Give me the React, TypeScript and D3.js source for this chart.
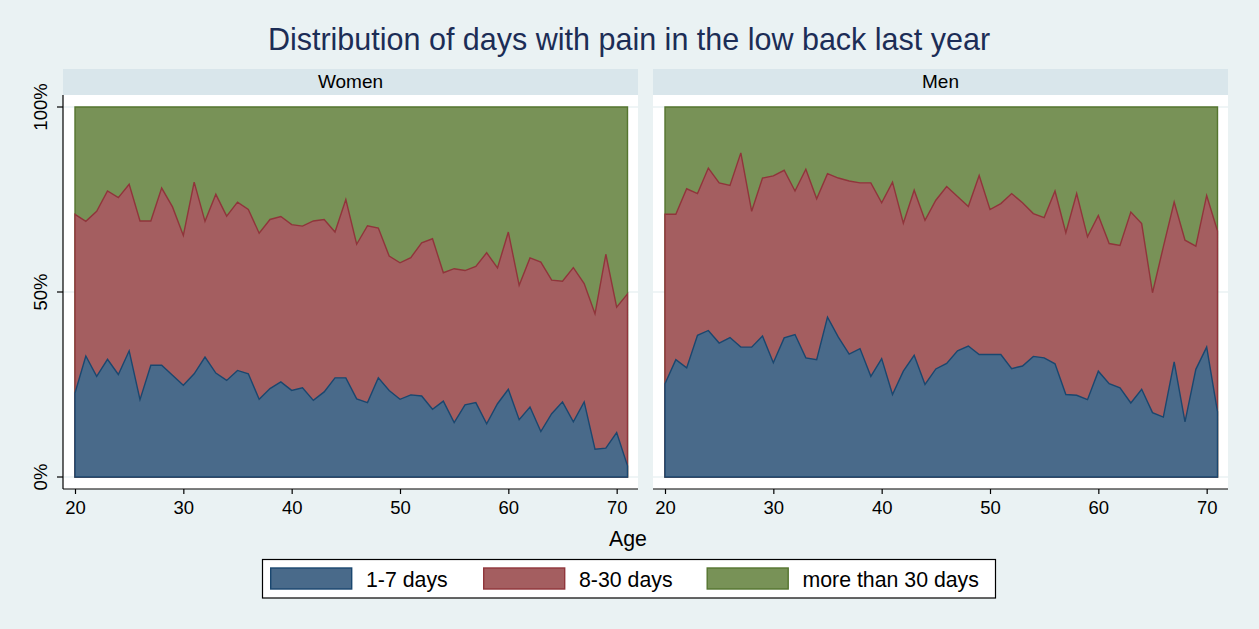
import * as React from 'react';
import {useRef, useEffect} from 'react';
import * as d3 from 'd3';

const ages = [20, 21, 22, 23, 24, 25, 26, 27, 28, 29, 30, 31, 32, 33, 34, 35, 36, 37, 38, 39, 40, 41, 42, 43, 44, 45,
    46, 47, 48, 49, 50, 51, 52, 53, 54, 55, 56, 57, 58, 59, 60, 61, 62, 63, 64, 65, 66, 67, 68, 69, 70, 71];

// shares in % per age
const women1to7 = [22.7, 32.7, 27.2, 31.8, 27.7, 34.1, 20.9, 30.2, 30.2, 27.5, 24.8, 27.9, 32.4, 28.1, 26.1, 28.8, 27.9,
    21.0, 23.9, 25.7, 23.4, 24.1, 20.7, 23.0, 26.8, 26.8, 21.1, 20.1, 26.8, 23.4, 21.0, 22.2, 21.9, 18.3, 20.5, 14.7, 19.5,
    20.1, 14.4, 19.8, 23.7, 15.5, 18.9, 12.3, 17.1, 20.3, 14.9, 20.3, 7.5, 7.8, 12.0, 3.0];
const women8to30 = [48.3, 36.4, 44.6, 45.5, 47.8, 45.0, 48.3, 39.0, 47.9, 45.5, 40.5, 51.8, 36.7, 48.3, 44.4, 45.5, 44.4,
    44.9, 45.7, 44.7, 44.8, 43.7, 48.5, 46.6, 39.4, 48.2, 41.8, 47.8, 40.5, 36.3, 36.9, 37.1, 41.4, 46.1, 34.7, 41.6, 36.3,
    36.8, 46.2, 36.7, 42.5, 36.3, 40.3, 45.8, 36.1, 32.6, 41.7, 32.0, 36.6, 52.4, 33.9, 46.5];
const womenOver30 = [29.0, 30.9, 28.2, 22.7, 24.5, 20.9, 30.8, 30.8, 21.9, 27.0, 34.7, 20.3, 30.9, 23.6, 29.5, 25.7, 27.7,
    34.1, 30.4, 29.6, 31.8, 32.2, 30.8, 30.4, 33.8, 25.0, 37.1, 32.1, 32.7, 40.3, 42.1, 40.7, 36.7, 35.6, 44.8, 43.7, 44.2,
    43.1, 39.4, 43.5, 33.8, 48.2, 40.8, 41.9, 46.8, 47.1, 43.4, 47.7, 55.9, 39.8, 54.1, 50.5];

const men1to7 = [25.2, 31.7, 29.5, 38.3, 39.6, 36.2, 37.7, 35.1, 35.1, 38.1, 30.9, 37.6, 38.5, 32.2, 31.7, 43.2, 37.8,
    33.2, 34.7, 27.2, 32.0, 22.3, 28.6, 32.9, 25.0, 29.2, 30.7, 34.1, 35.4, 33.1, 33.1, 33.1, 29.3, 30.0, 32.6, 32.2, 30.6,
    22.3, 22.1, 20.9, 28.6, 25.2, 24.1, 20.0, 23.7, 17.4, 16.2, 31.1, 14.9, 29.1, 35.1, 17.6];
const men8to30 = [45.8, 39.3, 48.4, 38.3, 43.9, 43.3, 41.1, 52.5, 36.7, 42.7, 50.5, 45.3, 38.8, 51.0, 43.5, 38.8, 43.0,
    46.8, 44.8, 52.3, 42.1, 57.4, 40.0, 44.6, 44.4, 45.6, 47.8, 41.7, 37.7, 48.4, 39.2, 40.8, 47.3, 44.1, 38.6, 37.9, 46.7,
    43.7, 54.5, 44.0, 42.1, 37.9, 38.5, 51.6, 44.8, 32.4, 46.0, 43.2, 49.1, 33.3, 41.0, 48.9];
const menOver30 = [29.0, 29.0, 22.1, 23.4, 16.5, 20.5, 21.2, 12.4, 28.2, 19.2, 18.6, 17.1, 22.7, 16.8, 24.8, 18.0, 19.2,
    20.0, 20.5, 20.5, 25.9, 20.3, 31.4, 22.5, 30.6, 25.2, 21.5, 24.2, 26.9, 18.5, 27.7, 26.1, 23.4, 25.9, 28.8, 29.9, 22.7,
    34.0, 23.4, 35.1, 29.3, 36.9, 37.4, 28.4, 31.5, 50.2, 37.8, 25.7, 36.0, 37.6, 23.9, 33.5];

const seriesKeys = ['1-7 days', '8-30 days', 'more than 30 days'];
const fillColors = ['#496a8a', '#a45e60', '#789257'];
const lineColors = ['#1a476f', '#90353b', '#55752f'];
const xTicks = [20, 30, 40, 50, 60, 70];
const yTicks = [0, 50, 100];
const panelLabels = ['Women', 'Men'];

const FONT = '"Liberation Sans", Arial, Helvetica, sans-serif';

const App = () => {
    const chartRef = useRef(null);

    useEffect(() => {
        const width = 1259;
        const height = 629;
        const svg = d3.select(chartRef.current);
        svg.selectAll('*').remove();

        svg.append('rect').attr('width', width).attr('height', height).attr('fill', '#eaf2f3');

        svg.append('text')
            .attr('x', 629).attr('y', 50)
            .attr('text-anchor', 'middle')
            .style('font-family', FONT).style('font-size', '30.5px')
            .attr('fill', '#1c2d56')
            .text('Distribution of days with pain in the low back last year');

        const panelData = [
            [women1to7, women8to30, womenOver30],
            [men1to7, men8to30, menOver30],
        ];
        const panels = [{left: 63, right: 638}, {left: 653, right: 1228}];
        const plotTop = 95, plotBottom = 489;

        panels.forEach((p, pi) => {
            const rows = ages.map((age, i) => ({
                age,
                '1-7 days': panelData[pi][0][i],
                '8-30 days': panelData[pi][1][i],
                'more than 30 days': panelData[pi][2][i],
            }));
            const stacked = d3.stack().keys(seriesKeys)(rows);

            const xScale = d3.scaleLinear().domain([20, 71]).range([p.left + 12, p.right - 10.5]);
            const yScale = d3.scaleLinear().domain([0, 100]).range([477, 107]);

            const g = svg.append('g');

            // strip
            g.append('rect')
                .attr('x', p.left).attr('y', 69)
                .attr('width', p.right - p.left).attr('height', 26)
                .attr('fill', '#d9e6eb');
            g.append('text')
                .attr('x', (p.left + p.right) / 2).attr('y', 87.5)
                .attr('text-anchor', 'middle')
                .style('font-family', FONT).style('font-size', '19px')
                .text(panelLabels[pi]);

            // plot region
            g.append('rect')
                .attr('x', p.left).attr('y', plotTop)
                .attr('width', p.right - p.left).attr('height', plotBottom - plotTop)
                .attr('fill', '#ffffff');

            g.selectAll('.grid')
                .data(yTicks)
                .enter()
                .append('line')
                .attr('x1', p.left).attr('x2', p.right)
                .attr('y1', d => yScale(d)).attr('y2', d => yScale(d))
                .attr('stroke', '#eaf2f3').attr('stroke-width', 1.6);

            // stacked areas, each drawn from zero (top series first)
            const area = d3.area()
                .x(d => xScale(d.data.age))
                .y0(yScale(0))
                .y1(d => yScale(d[1]));

            [2, 1, 0].forEach(si => {
                g.append('path')
                    .datum(stacked[si])
                    .attr('d', d => area(d) + 'Z')
                    .attr('fill', fillColors[si])
                    .attr('stroke', lineColors[si])
                    .attr('stroke-width', 1.4)
                    .attr('stroke-linejoin', 'miter');
            });

            // x axis
            g.append('line')
                .attr('x1', p.left).attr('x2', p.right)
                .attr('y1', plotBottom).attr('y2', plotBottom)
                .attr('stroke', '#000').attr('stroke-width', 1.2);
            const xAxis = g.append('g')
                .attr('transform', `translate(0, ${plotBottom})`)
                .call(d3.axisBottom(xScale).tickValues(xTicks).tickSize(5).tickPadding(7).tickFormat(d3.format('d')));
            xAxis.select('.domain').remove();
            xAxis.selectAll('line').attr('stroke', '#000').attr('stroke-width', 1.2);
            xAxis.selectAll('text')
                .style('font-family', FONT).style('font-size', '18.5px').attr('fill', '#000');

            // y axis on the first panel only
            if (pi === 0) {
                g.append('line')
                    .attr('x1', p.left).attr('x2', p.left)
                    .attr('y1', plotTop).attr('y2', plotBottom)
                    .attr('stroke', '#000').attr('stroke-width', 1.2);
                const yAxis = g.append('g')
                    .attr('transform', `translate(${p.left}, 0)`)
                    .call(d3.axisLeft(yScale).tickValues(yTicks).tickSize(6).tickFormat(d => d + '%'));
                yAxis.select('.domain').remove();
                yAxis.selectAll('line').attr('stroke', '#000').attr('stroke-width', 1.2);
                yAxis.selectAll('text')
                    .attr('x', null).attr('dy', null)
                    .attr('text-anchor', 'middle')
                    .attr('transform', d => `translate(-16, ${yScale(d)}) rotate(-90)`)
                    .attr('y', 0)
                    .style('font-family', FONT).style('font-size', '18.5px').attr('fill', '#000');
                yAxis.selectAll('.tick').attr('transform', null);
                yAxis.selectAll('.tick line')
                    .attr('y1', d => yScale(d)).attr('y2', d => yScale(d));
            }
        });

        svg.append('text')
            .attr('x', 628).attr('y', 546)
            .attr('text-anchor', 'middle')
            .style('font-family', FONT).style('font-size', '21.3px')
            .text('Age');

        // legend
        const legend = svg.append('g');
        legend.append('rect')
            .attr('x', 262.5).attr('y', 559.5).attr('width', 733).attr('height', 38.5)
            .attr('fill', '#fff').attr('stroke', '#000').attr('stroke-width', 1.2);
        const legendX = [270, 483, 706.5];
        seriesKeys.forEach((key, i) => {
            legend.append('rect')
                .attr('x', legendX[i] + 0.7).attr('y', 568)
                .attr('width', 81).attr('height', 21)
                .attr('fill', fillColors[i]).attr('stroke', lineColors[i]).attr('stroke-width', 1.4);
            legend.append('text')
                .attr('x', legendX[i] + 96).attr('y', 587)
                .style('font-family', FONT).style('font-size', '21.3px')
                .text(key);
        });
    }, []);

    return (
        <svg ref={chartRef} width={1259} height={629}
             style={{position: 'absolute', left: 0, top: 0, display: 'block'}}></svg>
    );
};

export default App;
